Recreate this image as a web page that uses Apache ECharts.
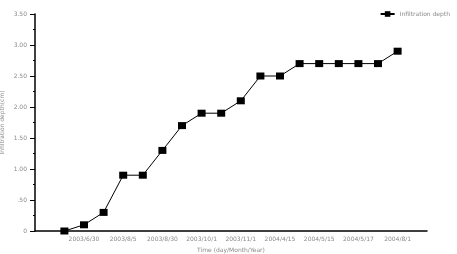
<!DOCTYPE html>
<html><head><meta charset="utf-8">
<script src="https://cdn.jsdelivr.net/npm/echarts@6/dist/echarts.min.js"></script>
<style>html,body{margin:0;padding:0;background:#fff}#c{width:457px;height:254px}</style>
</head><body><div id="c"></div>
<script>
var tickLabels = ["", "", "2003/6/30", "", "2003/8/5", "", "2003/8/30", "", "2003/10/1", "", "2003/11/1", "", "2004/4/15", "", "2004/5/15", "", "2004/5/17", "", "2004/8/1", ""];
var pointIndex = [1,2,3,4,5,6,7,8,9,10,11,12,13,14,15,16,17,18];
var depth = [0, 0.1, 0.3, 0.9, 0.9, 1.3, 1.7, 1.9, 1.9, 2.1, 2.5, 2.5, 2.7, 2.7, 2.7, 2.7, 2.7, 2.9];
var yLabels = {"0":"0","0.5":".50","1":"1.00","1.5":"1.50","2":"2.00","2.5":"2.50","3":"3.00","3.5":"3.50"};

var chart = echarts.init(document.getElementById('c'), null, {renderer:'canvas'});
var txt = {color:'#8a8a8a', fontFamily:'DejaVu Sans', fontSize:6};
chart.setOption({
  animation:false,
  grid:{left:35, right:30, top:14, bottom:23, containLabel:false, outerBoundsMode:'none'},
  legend:{
    right:2, top:6, itemWidth:14, itemHeight:7, itemGap:3,
    textStyle:{color:'#8a8a8a', fontFamily:'DejaVu Sans', fontSize:6},
    data:['Infiltration depth']
  },
  xAxis:[{
    type:'category', data:tickLabels, boundaryGap:true,
    axisLine:{lineStyle:{color:'#000', width:1.5}},
    axisTick:{alignWithLabel:true, inside:true, length:4, interval:function(i){return i%2===0;}, lineStyle:{color:'#000', width:1}},
    axisLabel:Object.assign({interval:0, margin:5}, txt),
    name:'Time (day/Month/Year)', nameLocation:'middle', nameGap:16, nameMoveOverlap:false,
    nameTextStyle:txt,
    splitLine:{show:false}
  },{
    type:'category', data:tickLabels, boundaryGap:true, position:'bottom',
    axisLine:{show:false},
    axisTick:{alignWithLabel:true, inside:true, length:2, interval:0, lineStyle:{color:'#000', width:1}},
    axisLabel:{show:false}, splitLine:{show:false}
  }],
  yAxis:{
    type:'value', min:0, max:3.5, interval:0.5,
    axisLine:{show:true, lineStyle:{color:'#000', width:1.5}},
    axisTick:{show:true, length:5, lineStyle:{color:'#000', width:1}},
    minorTick:{show:true, splitNumber:2, length:2, lineStyle:{color:'#000', width:1}},
    splitLine:{show:false},
    axisLabel:Object.assign({margin:8, formatter:function(v){return yLabels[String(v)];}}, txt),
    name:'Infiltration depth(cm)', nameLocation:'middle', nameGap:30, nameRotate:90, nameMoveOverlap:false,
    nameTextStyle:txt
  },
  series:[{
    name:'Infiltration depth', type:'line', xAxisIndex:0,
    data:pointIndex.map(function(x,i){return [x, depth[i]];}),
    symbol:'rect', symbolSize:[8,7], showAllSymbol:true,
    lineStyle:{color:'#000', width:1},
    itemStyle:{color:'#000'}
  }]
});
</script></body></html>
